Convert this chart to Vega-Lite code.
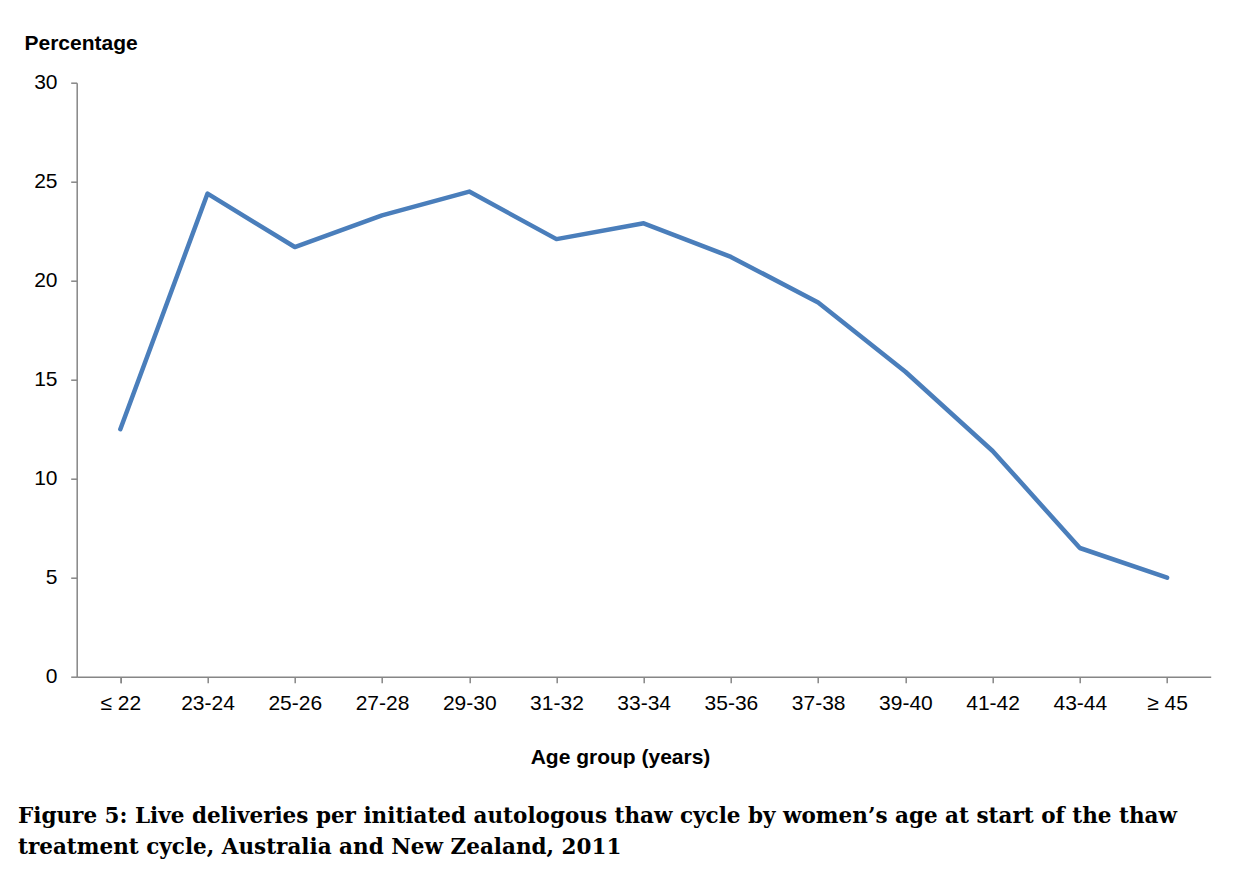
{
  "$schema": "https://vega.github.io/schema/vega-lite/v6.json",
  "width": 1134,
  "height": 594,
  "autosize": {"type": "none"},
  "padding": {"left": 76.7, "top": 82.7, "right": 28.3, "bottom": 204.3},
  "background": "white",
  "title": {
    "text": [
      "Figure 5: Live deliveries per initiated autologous thaw cycle by women’s age at start of the thaw",
      "treatment cycle, Australia and New Zealand, 2011"
    ],
    "orient": "bottom",
    "anchor": "start",
    "frame": "group",
    "dx": -58.7,
    "offset": 56,
    "baseline": "alphabetic",
    "font": "DejaVu Serif",
    "fontSize": 21.5,
    "fontWeight": "bold",
    "color": "black",
    "lineHeight": 31
  },
  "data": {
    "values": [
      {"age": "≤ 22", "pct": 12.5},
      {"age": "23-24", "pct": 24.4},
      {"age": "25-26", "pct": 21.7},
      {"age": "27-28", "pct": 23.3},
      {"age": "29-30", "pct": 24.5},
      {"age": "31-32", "pct": 22.1},
      {"age": "33-34", "pct": 22.9},
      {"age": "35-36", "pct": 21.2},
      {"age": "37-38", "pct": 18.9},
      {"age": "39-40", "pct": 15.4},
      {"age": "41-42", "pct": 11.4},
      {"age": "43-44", "pct": 6.5},
      {"age": "≥ 45", "pct": 5.0}
    ]
  },
  "mark": {"type": "line", "color": "#4A7EBB", "strokeWidth": 4.5, "strokeCap": "round", "strokeJoin": "round"},
  "encoding": {
    "x": {
      "field": "age",
      "type": "ordinal",
      "sort": null,
      "scale": {"type": "point", "padding": 0.5},
      "axis": {
        "title": "Age group (years)",
        "labelAngle": 0,
        "labelBaseline": "alphabetic",
        "labelPadding": 26.6,
        "tickSize": 6,
        "tickBand": "extent",
        "titleX": 543.3,
        "titleY": 86.3,
        "titleAlign": "center",
        "titleBaseline": "alphabetic"
      }
    },
    "y": {
      "field": "pct",
      "type": "quantitative",
      "scale": {"domain": [0, 30]},
      "axis": {
        "title": "Percentage",
        "values": [0, 5, 10, 15, 20, 25, 30],
        "tickSize": 6,
        "labelPadding": 13.7,
        "titleAngle": 0,
        "titleAlign": "left",
        "titleBaseline": "alphabetic",
        "titleX": -52.7,
        "titleY": -32.7
      }
    }
  },
  "config": {
    "view": {"stroke": null},
    "axis": {
      "grid": false,
      "domainColor": "#868686",
      "tickColor": "#868686",
      "domainWidth": 1.5,
      "tickWidth": 1.5,
      "labelFont": "Liberation Sans",
      "labelFontSize": 21,
      "labelColor": "black",
      "titleFont": "Liberation Sans",
      "titleFontSize": 21,
      "titleFontWeight": "bold",
      "titleColor": "black"
    }
  }
}
